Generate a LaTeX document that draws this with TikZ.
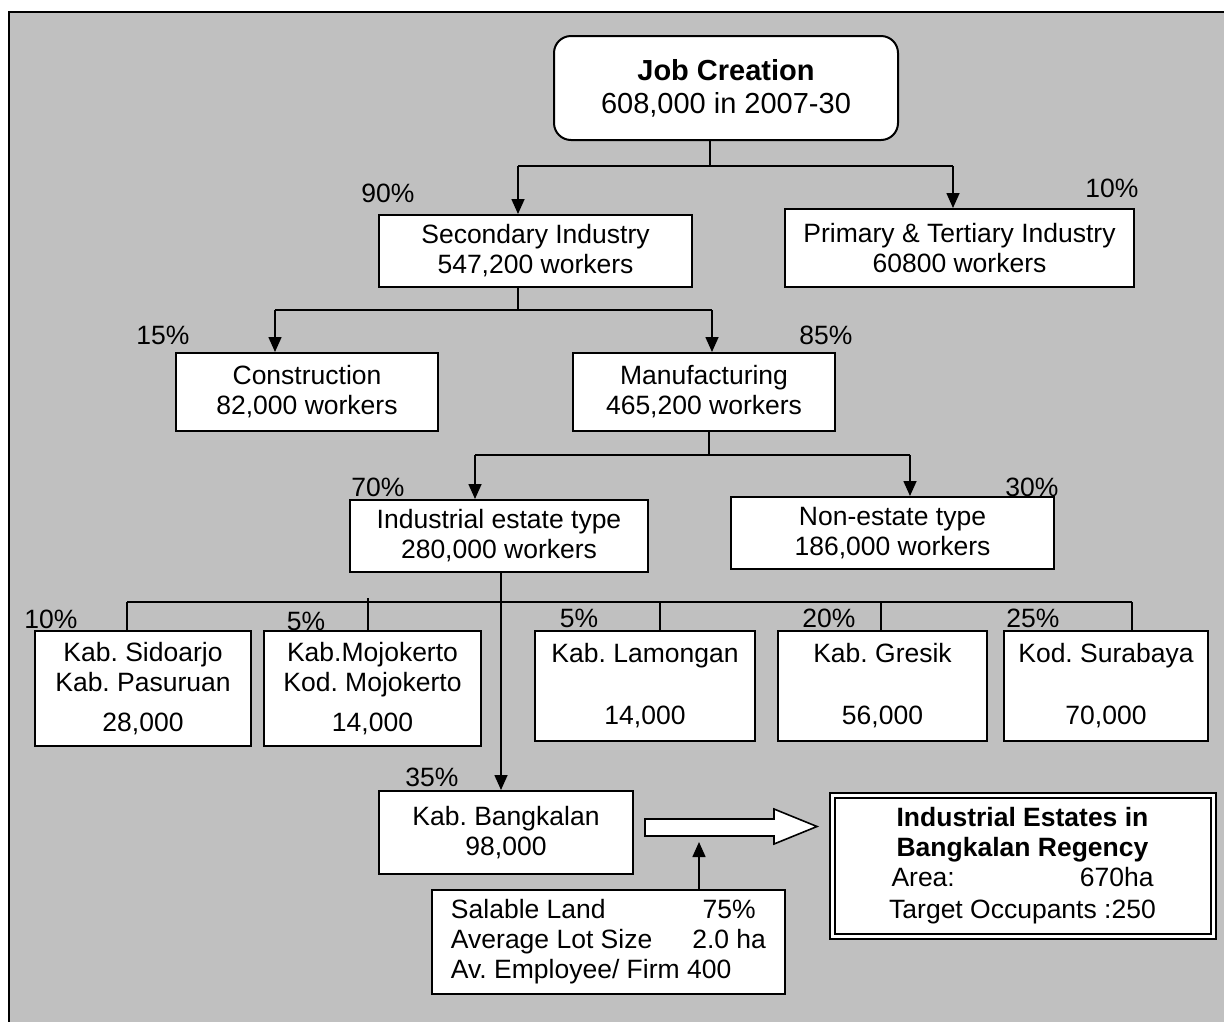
\documentclass[tikz,border=0pt]{standalone}
\usepackage{fontspec}
\setmainfont{Liberation Sans}
\usetikzlibrary{positioning,arrows.meta}
\definecolor{panel}{RGB}{192,192,192}
\frenchspacing

\begin{document}
\begin{tikzpicture}[x=1pt,y=-1pt,
  box/.style={draw,fill=white,line width=2pt,inner sep=0pt,align=center,font=\fontsize{26.5}{30}\selectfont},
  pct/.style={inner sep=0pt,font=\fontsize{26.5}{30}\selectfont},
  link/.style={line width=1.6pt},
  bar/.style={line width=2.4pt},
  arr/.style={line width=1.6pt,-{Triangle[length=15pt,width=13pt]}}]
\useasboundingbox (0,0) rectangle (1224,1021);
\fill[panel] (9,12) rectangle (1240,1040);
\draw[line width=2.5pt] (9,1040) -- (9,12) -- (1240,12);

% boxes
\node[box,rounded corners=17pt,minimum width=344pt,minimum height=104pt,font=\fontsize{29}{33}\selectfont] (job) at (726,88) {\textbf{Job Creation}\\608,000 in 2007-30};
\node[box,minimum width=313pt,minimum height=72pt] (sec) at (535.5,251) {Secondary Industry\\547,200 workers};
\node[box,minimum width=349pt,minimum height=78pt] (prim) at (959.5,248) {Primary \& Tertiary Industry\\60800 workers};
\node[box,minimum width=262pt,minimum height=78pt] (cons) at (307,392) {Construction\\82,000 workers};
\node[box,minimum width=262pt,minimum height=78pt] (manu) at (704,392) {Manufacturing\\465,200 workers};
\node[box,minimum width=298pt,minimum height=72pt] (ind) at (499,536) {Industrial estate type\\280,000 workers};
\node[box,minimum width=323pt,minimum height=72pt] (non) at (892.5,533) {Non-estate type\\186,000 workers};
\node[box,minimum width=216pt,minimum height=115pt] (sid) at (143,688.5) {Kab. Sidoarjo\\Kab. Pasuruan\\[10pt]28,000};
\node[box,minimum width=217pt,minimum height=115pt] (moj) at (372.5,688.5) {Kab.Mojokerto\\Kod. Mojokerto\\[10pt]14,000};
\node[box,minimum width=220pt,minimum height=110pt] (lam) at (645,686) {Kab. Lamongan\\[32pt]14,000};
\node[box,minimum width=209pt,minimum height=110pt] (gre) at (882.5,686) {Kab. Gresik\\[32pt]56,000};
\node[box,minimum width=204pt,minimum height=110pt] (sur) at (1106,686) {Kod. Surabaya\\[32pt]70,000};
\node[box,minimum width=254pt,minimum height=83pt] (bang) at (506,832.5) {Kab. Bangkalan\\98,000};
\node[box,minimum width=353pt,minimum height=104pt] (info) at (608.5,942) {\begin{tabular}{@{}l@{\hspace{40pt}}c@{}}
  Salable Land & 75\%\\
  Average Lot Size & 2.0 ha\\
  \multicolumn{2}{@{}l@{}}{Av. Employee/ Firm 400}
\end{tabular}};
\node[box,double,double distance=3pt,line width=2pt,minimum width=381pt,minimum height=141pt] (est) at (1022.5,866) {\textbf{Industrial Estates in}\\\textbf{Bangkalan Regency}\\\makebox[262pt]{Area:\hfill 670ha}\\[2pt]Target Occupants :250};

% shares
\node[pct] (p90) at (388,193) {90\%};
\node[pct] (p10) at (1112,188) {10\%};
\node[pct] (p15) at (163,335) {15\%};
\node[pct] (p85) at (826,335) {85\%};
\node[pct] (p70) at (378,487) {70\%};
\node[pct] (p30) at (1032,487) {30\%};
\node[pct] (psid) at (51,619) {10\%};
\node[pct] (pmoj) at (306,621) {5\%};
\node[pct] (plam) at (579,618) {5\%};
\node[pct] (pgre) at (829,618) {20\%};
\node[pct] (psur) at (1033,618) {25\%};
\node[pct] (pbang) at (432,777) {35\%};

% tree
\coordinate (jb) at (710,166);
\coordinate (j1) at (518,166);
\coordinate (j2) at (953,166);
\draw[link] (jb |- job.south) -- (jb);
\draw[bar] (j1) -- (j2);
\draw[arr] (j1) -- (j1 |- sec.north);
\draw[arr] (j2) -- (j2 |- prim.north);

\coordinate (s1) at (275,310);
\coordinate (s2) at (712,310);
\draw[link] (j1 |- sec.south) -- (j1 |- s1);
\draw[bar] (s1) -- (s2);
\draw[arr] (s1) -- (s1 |- cons.north);
\draw[arr] (s2) -- (s2 |- manu.north);

\coordinate (m1) at (475,455);
\coordinate (m2) at (910,455);
\draw[link] (709,0 |- manu.south) -- (709,455);
\draw[bar] (m1) -- (m2);
\draw[arr] (m1) -- (m1 |- ind.north);
\draw[arr] (m2) -- (m2 |- non.north);

\coordinate (i0) at (501,602);
\draw[arr] (i0 |- ind.south) -- (i0 |- bang.north);
\draw[bar] (127,602) -- (1132,602);
\foreach \xx/\nd in {127/sid,660/lam,881/gre,1132/sur}
  \draw[link] (\xx,602) -- (\xx,602 |- \nd.north);
\draw[link] (368,598) -- (368,598 |- moj.north);

% to the estates
\draw[arr] (699,0 |- info.north) -- (699,842);
\draw[line width=1.6pt,fill=white] (645,819) -- (774,819) -- (774,809) -- (817,826.5)
  -- (774,844) -- (774,836) -- (645,836) -- cycle;
\end{tikzpicture}
\end{document}
